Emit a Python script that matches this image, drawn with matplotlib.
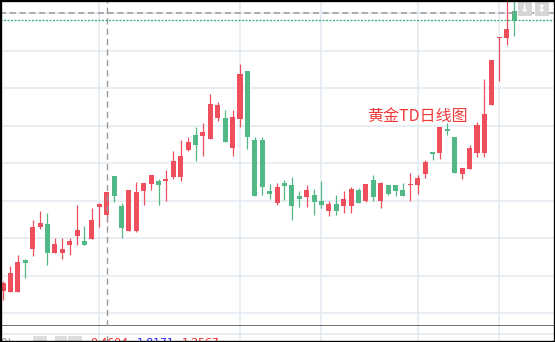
# -*- coding: utf-8 -*-
"""
黄金TD日线图 - K线截图复刻
"""

import matplotlib
matplotlib.use('Agg')
import matplotlib.pyplot as plt
from matplotlib.patches import Rectangle

plt.rcParams['font.family'] = ['Noto Sans CJK SC', 'DejaVu Sans']

# 日K数据 (开, 高, 低, 收)
opens = [263.0, 262.9, 262.9, 267.13, 268.64, 271.57, 271.93, 268.11, 268.11, 269.17,
         270.37, 269.67, 269.93, 274.24, 273.13, 278.33, 274.33, 271.0, 271.04, 276.37,
         277.31, 277.67, 277.67, 278.2, 278.2, 281.8, 283.8, 283.67, 283.27, 286.07,
         286.07, 282.07, 285.93, 292.33, 283.13, 283.13, 276.33, 274.73, 277.4, 277.13,
         275.67, 275.53, 275.8, 275.0, 273.67, 274.6, 274.33, 274.33, 276.47, 275.0,
         277.8, 275.0, 277.13, 277.13, 276.47, 277.13, 277.13, 278.6, 281.53, 281.4,
         284.6, 283.53, 278.6, 279.27, 281.4, 281.4, 287.8, 296.73, 296.73, 300.33]
highs = [264.33, 266.33, 267.8, 267.27, 272.47, 273.67, 273.4, 270.11, 270.11, 270.11,
         274.47, 271.71, 274.11, 274.77, 276.2, 278.33, 274.69, 276.47, 277.57, 277.4,
         278.47, 277.93, 279.13, 281.67, 283.13, 283.57, 284.87, 285.4, 289.27, 288.2,
         287.13, 287.13, 293.27, 292.33, 283.53, 283.53, 277.27, 277.4, 277.8, 278.2,
         276.33, 277.13, 276.6, 277.67, 275.0, 275.8, 276.33, 276.87, 276.73, 277.27,
         278.47, 277.53, 277.13, 277.13, 277.4, 278.73, 278.47, 280.47, 281.53, 284.87,
         285.4, 283.53, 279.4, 282.47, 285.53, 291.27, 293.8, 296.87, 303.0, 303.0]
lows = [261.8, 262.8, 262.8, 264.77, 267.71, 271.27, 266.47, 268.0, 267.27, 267.8,
        269.13, 269.1, 269.9, 271.57, 272.24, 274.91, 270.11, 270.95, 270.91, 274.47,
        276.47, 274.47, 275.0, 277.93, 277.67, 281.67, 280.33, 281.0, 283.2, 285.67,
        282.8, 281.0, 284.87, 281.93, 275.6, 275.8, 275.27, 274.47, 275.13, 272.47,
        274.2, 274.2, 273.13, 274.07, 273.0, 273.13, 273.4, 273.4, 274.7, 274.87,
        275.0, 274.07, 275.8, 275.67, 275.6, 275.0, 275.93, 278.07, 280.47, 280.6,
        283.8, 278.7, 277.93, 279.2, 280.87, 280.87, 287.8, 291.0, 295.8, 297.0]
closes = [264.07, 265.4, 266.9, 266.77, 271.57, 272.07, 268.11, 269.31, 268.6, 269.67,
          271.13, 269.17, 272.47, 274.64, 276.2, 275.67, 271.44, 276.47, 276.2, 277.4,
          278.47, 277.17, 277.93, 280.33, 281.0, 282.83, 282.47, 284.2, 287.93, 287.8,
          282.87, 286.2, 291.93, 283.53, 275.67, 276.87, 275.93, 276.87, 277.0, 274.33,
          275.27, 276.47, 274.87, 274.47, 274.6, 273.67, 275.27, 276.6, 274.73, 277.27,
          275.53, 277.4, 275.93, 276.33, 275.67, 277.27, 278.07, 280.2, 281.27, 284.87,
          284.33, 278.73, 279.4, 282.07, 285.13, 286.6, 293.8, 296.87, 297.93, 299.13]

month_ticks = [13, 32, 43, 56, 67]          # 月份分隔 (K线序号)
price_ticks = [260, 265, 270, 275, 280, 285, 290, 295, 300]
cross_idx = 14                               # 十字光标
cross_price = 300.0
last_price = closes[-1]

indicator_vals = ['0.4604', '1.8171', '1.2567']
indicator_colors = ['#f02020', '#2020ff', '#f02020']

UP = '#ef4f5c'
DOWN = '#52b886'
GRID = '#e2e9f0'

fig = plt.figure(figsize=(5.55, 3.42), dpi=100)
fig.patch.set_facecolor('white')

# 主图
ax = fig.add_axes([0, 16 / 342, 1, 326 / 342])
n = len(opens)
xs = list(range(n))
colors = [UP if c >= o else DOWN for o, c in zip(opens, closes)]

ax.vlines(xs, lows, highs, colors=colors, linewidth=0.9, zorder=3)
bodies = [max(abs(c - o), 0.14) for o, c in zip(opens, closes)]
bottoms = [min(o, c) for o, c in zip(opens, closes)]
ax.bar(xs, bodies, bottom=bottoms, width=0.68, color=colors, linewidth=0, zorder=4)

ax.set_xlim(-0.405, 74.53)
ax.set_ylim(258.333, 301.8)
ax.set_xticks(month_ticks)
ax.set_yticks(price_ticks)
ax.grid(True, color=GRID, linewidth=1.1, zorder=0)
ax.tick_params(length=0, labelbottom=False, labelleft=False)
for side in ['top', 'left', 'right']:
    ax.spines[side].set_visible(False)
ax.spines['bottom'].set_color('#555555')
ax.spines['bottom'].set_linewidth(1.2)

# 十字光标与最新价
ax.axvline(cross_idx, color='#9a9a9a', linewidth=1.0, linestyle=(0, (4.5, 3)), zorder=5)
ax.axhline(cross_price, color='#9a9a9a', linewidth=1.1, linestyle=(0, (4, 2.4)), zorder=5)
ax.axhline(last_price, color='#35b075', linewidth=0.9, linestyle=(0, (1.6, 1.2)), zorder=5)

ax.text(0.7514, 0.658, '黄金TD日线图', transform=fig.transFigure, fontsize=11.5,
        color='#f03a3a', ha='center', va='center', zorder=6)

# 右上角按钮
for x0, sym in [(518, '↓'), (535, '↕')]:
    fig.patches.append(Rectangle((x0 / 555, 1 - 16 / 342), 14 / 555, 14 / 342,
                                 transform=fig.transFigure, facecolor='#d6d6d6',
                                 edgecolor='none', zorder=7))
    fig.text((x0 + 7) / 555, 1 - 9 / 342, sym, color='white', fontsize=8,
             fontweight='bold', family='DejaVu Sans', ha='center', va='center', zorder=8)

# 副图
ax2 = fig.add_axes([0, 0, 1, 16 / 342])
ax2.set_xlim(-0.405, 74.53)
ax2.set_ylim(0, 1)
ax2.set_xticks(month_ticks)
ax2.set_yticks([0.53])
ax2.grid(True, color=GRID, linewidth=1.1)
ax2.tick_params(length=0, labelbottom=False, labelleft=False)
for side in ax2.spines:
    ax2.spines[side].set_visible(False)
ax2.axvline(cross_idx, ymax=0.6, color='#9a9a9a', linewidth=1.0, linestyle=(0, (4.5, 3)))

# 副图指标文字 (被裁掉下半部分)
base_y = -3.5 / 342
fig.text(1 / 555, base_y, '0)  —', color='#888888', fontsize=7.5, family='DejaVu Sans')
for x0, w in [(33, 14), (55, 12), (68, 14)]:
    fig.patches.append(Rectangle((x0 / 555, 0), w / 555, 6 / 342,
                                 transform=fig.transFigure, facecolor='#dddddd',
                                 edgecolor='none'))
for x0, val, col in zip([90, 137, 182], indicator_vals, indicator_colors):
    fig.text(x0 / 555, base_y, val, color=col, fontsize=7.8, family='DejaVu Sans')

# 外框
fig.patches.append(Rectangle((0, 0), 1, 1, transform=fig.transFigure, fill=False,
                             edgecolor='black', linewidth=2.4, zorder=10))

fig.savefig('out.png', dpi=100)
